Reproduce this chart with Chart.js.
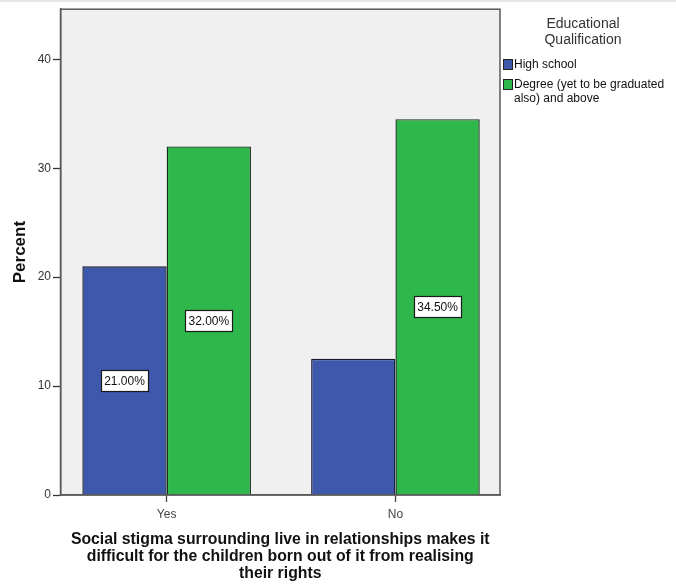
<!DOCTYPE html>
<html>
<head>
<meta charset="utf-8">
<script src="https://cdn.jsdelivr.net/npm/chart.js@4/dist/chart.umd.min.js"></script>
<style>
  html, body { margin: 0; padding: 0; background: #ffffff; }
  #wrap { position: relative; width: 676px; height: 588px; }
  #strip { position: absolute; left: 0; top: 0; width: 676px; height: 2px; background: #e6e6e6; }
</style>
</head>
<body>
<div id="wrap">
  <canvas id="c" width="676" height="588"></canvas>
  <div id="strip"></div>
</div>
<script>
// ---- data ----
const categories = ['Yes', 'No'];
const seriesNames = ['High school', 'Degree (yet to be graduated also) and above'];
const legendLines = [['High school'], ['Degree (yet to be graduated', 'also) and above']];
const highSchool = [21.0, 12.5];
const degree = [32.0, 34.5];
const highSchoolLabelShown = [true, false];
const degreeLabelShown = [true, true];
const yTicks = [0, 10, 20, 30, 40];
const xTitle = ['Social stigma surrounding live in relationships makes it',
                'difficult for the children born out of it from realising',
                'their rights'];
const yTitle = 'Percent';
const legendTitle = ['Educational', 'Qualification'];

const COL_BLUE = '#3e58ac';
const COL_GREEN = '#2eb84b';
const FONT = '"Liberation Sans", Arial, sans-serif';

const toPoints = arr => arr.map((v, i) => ({ x: i, y: v }));

const plotBg = {
  id: 'plotBg',
  beforeDraw(chart) {
    const { ctx, chartArea: a } = chart;
    ctx.save();
    ctx.fillStyle = '#f0f0f0';
    ctx.fillRect(a.left, a.top, a.right - a.left, a.bottom - a.top);
    ctx.restore();
  },
  afterDatasetsDraw(chart) {
    const { ctx, chartArea: a } = chart;
    ctx.save();
    ctx.strokeStyle = '#5a5a5a';
    ctx.lineWidth = 1.5;
    ctx.strokeRect(a.left, a.top, a.right - a.left, a.bottom - a.top);
    ctx.restore();
  }
};

const barLabels = {
  id: 'barLabels',
  afterDatasetsDraw(chart) {
    const { ctx } = chart;
    ctx.save();
    ctx.font = '12px ' + FONT;
    ctx.textAlign = 'center';
    ctx.textBaseline = 'middle';
    chart.data.datasets.forEach((ds, di) => {
      const meta = chart.getDatasetMeta(di);
      meta.data.forEach((bar, i) => {
        if (!ds.labelShown[i]) return;
        const txt = ds.data[i].y.toFixed(2) + '%';
        const cx = bar.x;
        const cy = (bar.y + bar.base) / 2;
        const w = Math.round(ctx.measureText(txt).width + 6);
        const h = 21;
        const x0 = Math.round(cx - w / 2) + 0.5, y0 = Math.round(cy - h / 2) + 0.5;
        ctx.fillStyle = '#ffffff';
        ctx.fillRect(x0, y0, w, h);
        ctx.strokeStyle = '#1a1a1a';
        ctx.lineWidth = 1.2;
        ctx.strokeRect(x0, y0, w, h);
        ctx.fillStyle = '#111111';
        ctx.fillText(txt, cx, cy + 1);
      });
    });
    ctx.restore();
  }
};

const customLegend = {
  id: 'customLegend',
  afterDraw(chart) {
    const { ctx } = chart;
    ctx.save();
    ctx.fillStyle = '#333333';
    ctx.font = '14px ' + FONT;
    ctx.textAlign = 'center';
    ctx.textBaseline = 'middle';
    ctx.fillText(legendTitle[0], 583, 24);
    ctx.fillText(legendTitle[1], 583, 40);
    const items = [{ y: 59, lines: legendLines[0] }, { y: 79, lines: legendLines[1] }];
    ctx.font = '12px ' + FONT;
    ctx.textAlign = 'left';
    chart.data.datasets.forEach((ds, di) => {
      const it = items[di];
      ctx.fillStyle = ds.backgroundColor;
      ctx.fillRect(503, it.y, 10, 11);
      ctx.strokeStyle = '#222222';
      ctx.lineWidth = 1;
      ctx.strokeRect(503.5, it.y + 0.5, 9, 10);
      ctx.fillStyle = '#111111';
      it.lines.forEach((ln, k) => ctx.fillText(ln, 514, it.y + 5.5 + k * 14));
    });
    ctx.restore();
  }
};

new Chart(document.getElementById('c'), {
  type: 'bar',
  data: {
    datasets: [
      { label: seriesNames[0], data: toPoints(highSchool), labelShown: highSchoolLabelShown,
        backgroundColor: COL_BLUE, borderColor: '#15182e', borderWidth: 1.4 },
      { label: seriesNames[1], data: toPoints(degree), labelShown: degreeLabelShown,
        backgroundColor: COL_GREEN, borderColor: '#15301b', borderWidth: 1.4 }
    ]
  },
  plugins: [plotBg, barLabels, customLegend],
  options: {
    responsive: false,
    animation: false,
    categoryPercentage: 0.737,
    barPercentage: 1.0,
    layout: { padding: { left: 0, top: 7, right: 176, bottom: 0 } },
    plugins: { legend: { display: false }, tooltip: { enabled: false } },
    scales: {
      x: {
        type: 'linear',
        offset: false,
        min: -0.464,
        max: 1.457,
        afterBuildTicks(scale) { scale.ticks = categories.map((c, i) => ({ value: i })); },
        afterFit(scale) { scale.height = 93; },
        ticks: {
          callback: v => categories[v],
          color: '#444444',
          font: { family: FONT, size: 12 },
          padding: 5,
          maxRotation: 0
        },
        grid: { offset: false, drawOnChartArea: false, drawTicks: true, tickLength: 7, tickColor: '#444444', tickWidth: 1.3 },
        border: { display: true, color: '#5a5a5a', width: 1.5 },
        title: {
          display: true,
          text: xTitle,
          color: '#111111',
          font: { family: FONT, size: 15.8, weight: 'bold', lineHeight: 1.076 },
          padding: { top: 0, bottom: 5.5 }
        }
      },
      y: {
        type: 'linear',
        min: 0,
        max: 44.6,
        afterBuildTicks(scale) { scale.ticks = yTicks.map(v => ({ value: v })); },
        afterFit(scale) { scale.width = 60.5; },
        ticks: {
          color: '#333333',
          font: { family: FONT, size: 12 },
          padding: 2
        },
        grid: { drawOnChartArea: false, drawTicks: true, tickLength: 7.5, tickColor: '#333333', tickWidth: 1.3 },
        border: { display: true, color: '#5a5a5a', width: 1.5 },
        title: {
          display: true,
          text: yTitle,
          color: '#111111',
          font: { family: FONT, size: 17, weight: 'bold', lineHeight: 1.2 },
          padding: { top: 10, bottom: 0 }
        }
      }
    }
  }
});
</script>
</body>
</html>
